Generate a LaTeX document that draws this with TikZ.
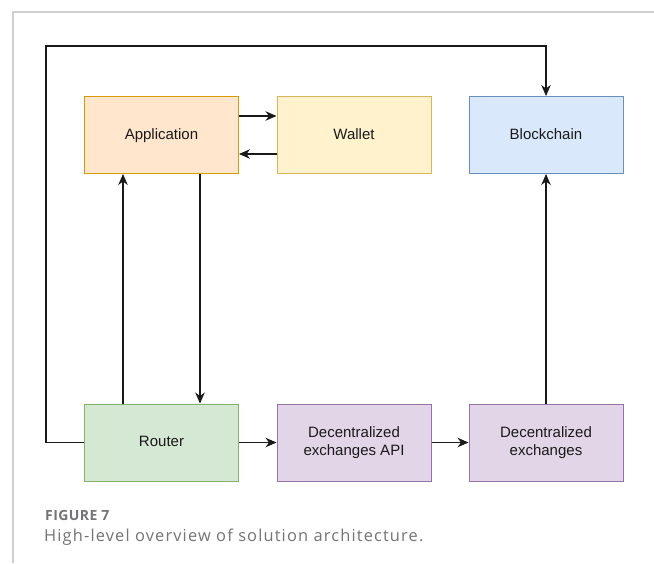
\documentclass[tikz,border=0pt]{standalone}
\usepackage{fontspec}
\setmainfont{Liberation Sans}
\newfontfamily\captionfont{Open Sans}
\usetikzlibrary{arrows.meta}

\definecolor{orangefill}{HTML}{FFE6CC}\definecolor{orangeline}{HTML}{D79B00}
\definecolor{yellowfill}{HTML}{FFF2CC}\definecolor{yellowline}{HTML}{D6B656}
\definecolor{bluefill}{HTML}{DAE8FC}\definecolor{blueline}{HTML}{6C8EBF}
\definecolor{greenfill}{HTML}{D5E8D4}\definecolor{greenline}{HTML}{82B366}
\definecolor{purplefill}{HTML}{E1D5E7}\definecolor{purpleline}{HTML}{9673A6}
\definecolor{framegray}{HTML}{D0D0D0}
\definecolor{captiongray}{HTML}{747476}
\definecolor{textdark}{HTML}{1A1A1A}

\tikzset{
  block/.style={rectangle, line width=1pt, minimum width=154pt, minimum height=77pt,
    inner sep=0pt, align=center, text=textdark, font=\fontsize{15}{18.4}\selectfont},
  oneline/.style={text height=11pt, text depth=3pt},
  orangebox/.style={block, fill=orangefill, draw=orangeline},
  yellowbox/.style={block, fill=yellowfill, draw=yellowline},
  bluebox/.style={block, fill=bluefill, draw=blueline},
  greenbox/.style={block, fill=greenfill, draw=greenline},
  purplebox/.style={block, fill=purplefill, draw=purpleline},
  link/.style={line width=1.1pt, draw=black!90, -{Stealth[length=11pt, width=9.5pt, inset=3.5pt]}},
  caphead/.style={anchor=base west, inner sep=0pt, text=captiongray,
    font=\captionfont\bfseries\fontsize{14}{16}\selectfont\addfontfeature{LetterSpace=3}},
  captext/.style={anchor=base west, inner sep=0pt, text=captiongray,
    font=\captionfont\fontsize{16.4}{19}\selectfont\addfontfeature{LetterSpace=7}},
}

\begin{document}
\begin{tikzpicture}[x=1pt, y=-1pt]
  \useasboundingbox (0,0) rectangle (654,563);
  \fill[white] (0,0) rectangle (654,563);

  % page frame
  \draw[framegray, line width=1.2pt] (13,563) -- (13,12) -- (654,12);

  % boxes
  \node[orangebox, oneline] (app) at (161.5,135) {Application};
  \node[yellowbox, oneline] (wallet) at (354,135) {Wallet};
  \node[bluebox, oneline] (chain) at (546,135) {Blockchain};
  \node[greenbox, oneline] (router) at (161.5,442.5) {Router};
  \node[purplebox] (dexapi) at (354,442.5) {Decentralized\\exchanges API};
  \node[purplebox] (dex) at (546,442.5) {Decentralized\\exchanges};

  \coordinate (loop) at (46,46);

  % connectors
  \draw[link] ([yshift=19pt]app.east) -- ([yshift=19pt]wallet.west);
  \draw[link] ([yshift=-19pt]wallet.west) -- ([yshift=-19pt]app.east);
  \draw[link] ([xshift=-38.5pt]router.north) -- ([xshift=-38.5pt]app.south);
  \draw[link] ([xshift=38.5pt]app.south) -- ([xshift=38.5pt]router.north);
  \draw[link] (router.west) -| (loop) -| (chain.north);
  \draw[link] (dex.north) -- (chain.south);
  \draw[link] (router.east) -- (dexapi.west);
  \draw[link] (dexapi.east) -- (dex.west);

  % caption
  \node[caphead] (fig) at (45,520.5) {FIGURE 7};
  \node[captext] (cap) at (44,541.5) {High-level overview of solution architecture.};
\end{tikzpicture}
\end{document}
